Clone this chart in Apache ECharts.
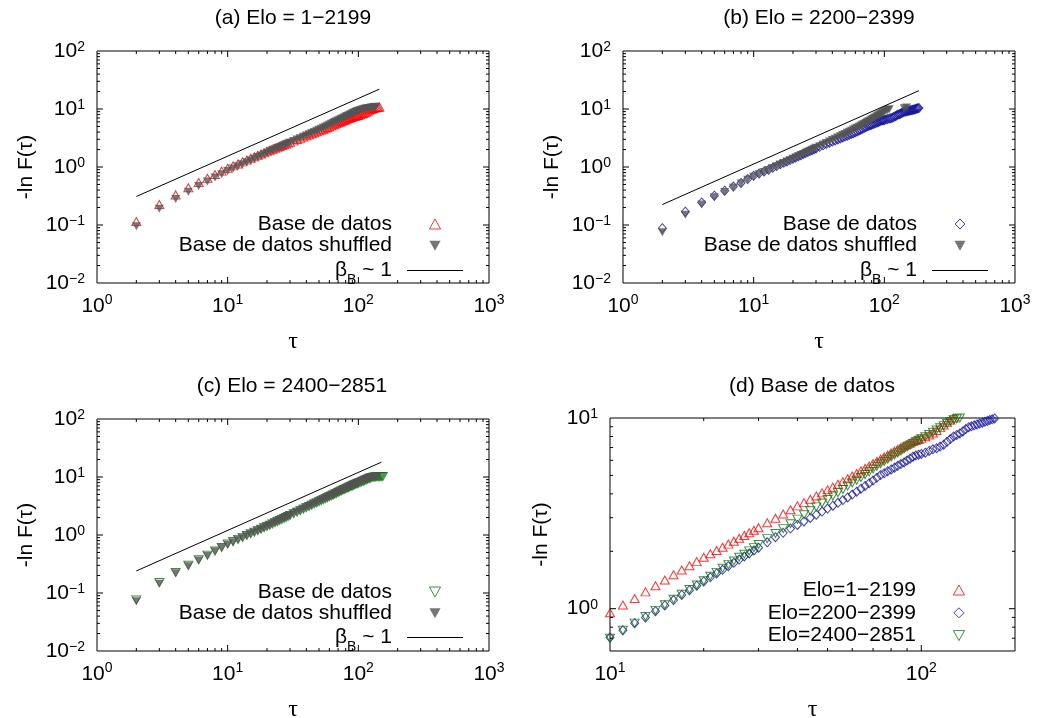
<!DOCTYPE html>
<html><head><meta charset="utf-8">
<script src="https://cdn.jsdelivr.net/npm/echarts@6/dist/echarts.min.js"></script>
<style>html,body{margin:0;padding:0;background:#fff}#c{width:1037px;height:718px}</style>
</head><body><div id="c"></div>
<script>
// ---------------- DATA ----------------
const TAU = [2,3,4,5,6,7,8,9,10,11,12,13,14,15,16,17,18,19,20,21,22,23,24,25,26,27,28,29,30,
  32,34,36,38,40,42,44,46,48,50,52,54,56,58,60,62,64,66,68,70,72,74,76,78,80,82,84,86,88,90,92,94,96,98,100,
  103,106,109,112,115,118,121,124,127,130,133,136,139,142,145,148,151,154,157,160,163,166,169,172,175,178,181,184];

// Elo 1-2199 (real / shuffled)
const A_REAL = [.115,.225,.33,.44,.54,.64,.74,.85,.953,
  1.046,1.13,1.225,1.318,1.413,1.506,1.595,1.68,1.765,1.86,
  1.94,2.02,2.10,2.18,2.26,2.34,2.42,2.50,2.58,2.66,
  2.82,2.98,3.14,3.30,3.46,3.60,3.75,3.90,4.05,4.20,4.34,4.49,4.64,4.80,4.96,5.12,5.28,5.44,5.60,5.77,
  5.93,6.10,6.25,6.40,6.55,6.70,6.85,7.00,7.15,7.28,7.40,7.52,7.62,7.72,7.82,
  7.98,8.15,8.35,8.6,8.9,9.2,9.5,9.75,10.0,10.2,10.35,10.5,10.6,10.7,10.8];
const A_SHUF = [.095,.19,.28,.375,.47,.56,.66,.75,.85,
  .94,1.03,1.12,1.21,1.30,1.39,1.48,1.57,1.66,1.76,
  1.86,1.95,2.03,2.12,2.20,2.29,2.37,2.46,2.54,2.63,
  2.80,2.97,3.14,3.31,3.48,3.66,3.84,4.02,4.20,4.39,4.58,4.77,4.96,5.15,5.35,
  5.55,5.75,5.95,6.15,6.35,6.55,6.75,6.95,7.15,7.35,7.55,7.75,7.95,8.15,8.35,8.55,8.75,8.95,9.15,9.30,
  9.50,9.75,9.95,10.1,10.2,10.3,10.4,10.5,10.6,10.7,10.8,10.9];

// Elo 2200-2399
const B_REAL = [.088,.17,.245,.32,.39,.46,.53,.62,.706,
  .77,.84,.90,.97,1.04,1.11,1.18,1.25,1.32,1.39,
  1.46,1.53,1.60,1.67,1.74,1.81,1.88,1.95,2.02,2.09,
  2.23,2.37,2.50,2.63,2.75,2.87,2.99,3.11,3.23,3.35,3.47,3.59,3.71,3.83,3.97,4.11,4.26,4.40,4.55,4.70,
  4.86,5.02,5.13,5.25,5.37,5.49,5.61,5.73,5.85,5.98,6.12,6.27,6.35,6.42,6.48,
  6.58,6.72,6.85,6.95,7.08,7.25,7.5,7.75,8.0,8.15,8.3,8.5,8.75,8.95,9.05,9.15,9.25,9.35,9.45,9.55,
  9.65,9.75,9.85,9.95,10.1,10.2,10.3,10.4];
const B_SHUF = [.075,.15,.225,.30,.37,.44,.52,.60,.68,
  .75,.82,.89,.96,1.03,1.10,1.17,1.24,1.31,1.39,
  1.46,1.53,1.61,1.68,1.76,1.83,1.91,1.98,2.06,2.14,
  2.29,2.44,2.59,2.75,2.91,3.07,3.23,3.39,3.55,3.72,3.89,4.06,4.23,4.41,4.59,4.77,4.96,5.15,5.34,5.54,
  5.74,5.94,6.15,6.36,6.57,6.79,7.01,7.24,7.47,7.70,7.94,8.18,8.43,8.68,8.93,
  9.3,9.6,9.9,null,null,null,null,null,null,null,null,null,null,10.3,null,10.6];

// Elo 2400-2851
const C_REAL = [.076,.152,.226,.30,.375,.45,.53,.61,.70,
  .77,.84,.91,.98,1.05,1.12,1.19,1.26,1.33,1.40,
  1.48,1.55,1.63,1.70,1.78,1.86,1.93,2.01,2.09,2.17,
  2.33,2.48,2.63,2.79,2.95,3.11,3.26,3.42,3.58,3.74,3.90,4.06,4.22,4.40,4.56,4.72,4.88,5.05,5.22,5.40,
  5.58,5.76,5.92,6.08,6.24,6.40,6.56,6.72,6.88,7.04,7.20,7.36,7.50,7.64,7.78,
  7.98,8.2,8.42,8.65,8.88,9.12,9.36,9.58,9.78,9.92,10.0,10.05,10.1,10.1,10.15,10.2,10.2,10.25];
const C_SHUF = [.072,.145,.218,.29,.365,.44,.52,.60,.68,
  .75,.83,.90,.97,1.04,1.12,1.19,1.26,1.34,1.41,
  1.49,1.57,1.64,1.72,1.80,1.88,1.96,2.04,2.12,2.20,
  2.36,2.52,2.68,2.84,3.00,3.16,3.32,3.48,3.64,3.80,3.96,4.12,4.29,4.46,4.62,4.79,4.96,5.13,5.30,5.47,
  5.64,5.81,5.98,6.15,6.32,6.49,6.66,6.83,7.00,7.17,7.34,7.51,7.68,7.85,8.02,
  8.27,8.52,8.77,9.02,9.27,9.5,9.7,9.85,9.95,10.0,10.05,10.1,10.1];

// beta_B ~ 1 guide lines (end points)
const LINE_A_TAU = [2,145], LINE_A_VAL = [0.31,22];
const LINE_B_TAU = [2,184], LINE_B_VAL = [0.225,20.7];
const LINE_C_TAU = [2,150], LINE_C_VAL = [0.24,18];

const TITLES = ['(a) Elo = 1\u22122199','(b) Elo = 2200\u22122399','(c) Elo = 2400\u22122851','(d) Base de datos'];
const X_NAME = '\u03c4';
const Y_NAME = '-ln F(\u03c4)';
const LEGEND_LABELS = {
  a_real:'Base de datos', a_shuf:'Base de datos shuffled', a_line:'BETA',
  b_real:'Base de datos', b_shuf:'Base de datos shuffled', b_line:'BETA',
  c_real:'Base de datos', c_shuf:'Base de datos shuffled', c_line:'BETA',
  d_a:'Elo=1\u22122199', d_b:'Elo=2200\u22122399', d_c:'Elo=2400\u22122851'
};

// ---------------- STYLE / LAYOUT ----------------
const FONT = 'Liberation Sans';
const RED = '#ff0000', BLUE = '#10109a', GREEN = '#0f720f', GRAY = '#545454';
const UP = 'path://M5,0L10,9L0,9Z';
const DOWN = 'path://M0,0L10,0L5,9Z';
const DIAM = 'path://M5,0L10,5L5,10L0,5Z';
const LINE_ICON = 'path://M0,0H56V1H0Z';
const panels = [
  {left:97, top:51, width:392, height:232, xr:[1,1000], yr:[0.01,100], title:[293,18]},
  {left:623, top:51, width:392, height:232, xr:[1,1000], yr:[0.01,100], title:[819,18]},
  {left:97, top:419, width:392, height:232, xr:[1,1000], yr:[0.01,100], title:[292,386]},
  {left:610, top:418, width:405, height:233, xr:[10,200], yr:[0.6,10], title:[812,386]}
];

const zip = vals => vals.map((v,i) => v == null ? null : [TAU[i], v]).filter(Boolean);
const zipLine = (t, v) => t.map((x,i) => [x, v[i]]);

const fmtExp = e => (e < 0 ? '\u2212' + (-e) : String(e));
function powLabel(v) {
  const e = Math.log10(v), r = Math.round(e);
  if (Math.abs(e - r) > 1e-6) return '';
  return '{b|10}{s|' + fmtExp(r) + '}';
}
const supS = {fontSize:14, lineHeight:14, verticalAlign:'top', fontFamily:FONT, color:'#000'};
const RICH_X = {b:{fontSize:21, lineHeight:21, padding:[5,0,0,0], fontFamily:FONT, color:'#000'}, s:supS};
const RICH_Y = {b:{fontSize:21, lineHeight:21, padding:[5,0,5,0], fontFamily:FONT, color:'#000'}, s:supS};

function tickData(p) {
  const d = [];
  const e0 = Math.floor(Math.log10(p.xr[0])), e1 = Math.ceil(Math.log10(p.xr[1]));
  for (let e = e0; e <= e1; e++) for (let m = 1; m <= 9; m++) {
    const v = m * Math.pow(10, e);
    if (v > p.xr[0] * 1.0001 && v < p.xr[1] * 0.9999) d.push([v, p.yr[0], 0, m === 1 ? 6 : 3]);
  }
  const f0 = Math.floor(Math.log10(p.yr[0])), f1 = Math.ceil(Math.log10(p.yr[1]));
  for (let e = f0; e <= f1; e++) for (let m = 1; m <= 9; m++) {
    const v = m * Math.pow(10, e);
    if (v > p.yr[0] * 1.0001 && v < p.yr[1] * 0.9999) d.push([p.xr[0], v, 1, m === 1 ? 6 : 3]);
  }
  return d;
}
function tickSeries(i) {
  const p = panels[i];
  return {
    type:'custom', xAxisIndex:i, yAxisIndex:i, silent:true, z:5,
    encode:{x:0, y:1}, data: tickData(p),
    renderItem(params, api) {
      const kind = api.value(2), len = api.value(3);
      const st = {stroke:'#000', lineWidth:1};
      if (kind === 0) {
        const v = api.value(0);
        const b = api.coord([v, p.yr[0]]), t = api.coord([v, p.yr[1]]);
        return {type:'group', children:[
          {type:'line', shape:{x1:b[0], y1:b[1], x2:b[0], y2:b[1]-len}, style:st},
          {type:'line', shape:{x1:t[0], y1:t[1], x2:t[0], y2:t[1]+len}, style:st}]};
      } else {
        const v = api.value(1);
        const l = api.coord([p.xr[0], v]), r = api.coord([p.xr[1], v]);
        return {type:'group', children:[
          {type:'line', shape:{x1:l[0], y1:l[1], x2:l[0]+len, y2:l[1]}, style:st},
          {type:'line', shape:{x1:r[0], y1:r[1], x2:r[0]-len, y2:r[1]}, style:st}]};
      }
    }
  };
}

function scatter(name, i, data, symbol, size, color, hollow) {
  return {
    type:'scatter', name, xAxisIndex:i, yAxisIndex:i, data, symbol, symbolSize:size,
    silent:true, clip:true,
    itemStyle: hollow ? {color:'rgba(0,0,0,0)', borderColor:color, borderWidth:1}
                      : {color:color, borderWidth:0}
  };
}
function guide(name, i, data) {
  return {type:'line', name, xAxisIndex:i, yAxisIndex:i, data, symbol:'none', showSymbol:false,
    silent:true, color:'#000', lineStyle:{color:'#000', width:1}, itemStyle:{color:'#000'}};
}

const series = [
  scatter('a_real',0,zip(A_REAL),UP,[9,8],RED,true),
  scatter('a_shuf',0,zip(A_SHUF),DOWN,[9,8],GRAY,false),
  guide('a_line',0,zipLine(LINE_A_TAU,LINE_A_VAL)),
  scatter('b_real',1,zip(B_REAL),DIAM,[8,9],BLUE,true),
  scatter('b_shuf',1,zip(B_SHUF),DOWN,[9,8],GRAY,false),
  guide('b_line',1,zipLine(LINE_B_TAU,LINE_B_VAL)),
  scatter('c_real',2,zip(C_REAL),DOWN,[9,8],GREEN,true),
  scatter('c_shuf',2,zip(C_SHUF),DOWN,[9,8],GRAY,false),
  guide('c_line',2,zipLine(LINE_C_TAU,LINE_C_VAL)),
  scatter('d_a',3,zip(A_REAL),UP,[9,8],RED,true),
  scatter('d_b',3,zip(B_REAL),DIAM,[8,9],BLUE,true),
  scatter('d_c',3,zip(C_REAL),DOWN,[9,8],GREEN,true),
  tickSeries(0), tickSeries(1), tickSeries(2), tickSeries(3)
];

const legendRich = {
  t:{fontSize:21, lineHeight:28, fontFamily:FONT, color:'#000'},
  s:{fontSize:14, lineHeight:8, padding:[20,0,0,0], fontFamily:FONT, color:'#000'}
};
function legend(names, right, top, gap) {
  return {
    orient:'vertical', align:'right', right, top, padding:0, itemGap:gap,
    itemWidth:56, itemHeight:10, selectedMode:false,
    data: names.map(n => LEGEND_LABELS[n] === 'BETA' ? {name:n, icon:LINE_ICON} : n),
    itemStyle:{borderWidth:1}, lineStyle:{width:1},
    formatter: n => LEGEND_LABELS[n] === 'BETA' ? '{t|\u03b2}{s|B}{t| ~ 1}' : '{t|' + LEGEND_LABELS[n] + '}',
    textStyle:{fontSize:21, fontFamily:FONT, color:'#000', lineHeight:28, padding:[0,10,0,0], rich:legendRich}
  };
}

const option = {
  animation:false,
  backgroundColor:'#fff',
  textStyle:{fontFamily:FONT},
  grid: panels.map(p => ({left:p.left, top:p.top, width:p.width, height:p.height,
    show:true, borderColor:'#000', borderWidth:1, backgroundColor:'rgba(0,0,0,0)', containLabel:false, outerBoundsMode:'none'})),
  xAxis: panels.map((p,i) => ({
    gridIndex:i, type:'log', logBase:10, min:p.xr[0], max:p.xr[1],
    name:X_NAME, nameLocation:'middle', nameGap:47,
    nameTextStyle:{fontFamily:'Liberation Serif', fontSize:24, color:'#000'},
    axisLine:{show:false}, axisTick:{show:false}, splitLine:{show:false}, minorTick:{show:false},
    axisLabel:{margin:10, formatter:powLabel, rich:RICH_X, showMinLabel:true, showMaxLabel:true}
  })),
  yAxis: panels.map((p,i) => ({
    gridIndex:i, type:'log', logBase:10, min:p.yr[0], max:p.yr[1],
    name:Y_NAME, nameLocation:'middle', nameGap:i === 3 ? 58 : 60, nameRotate:90,
    nameTextStyle:{fontFamily:FONT, fontSize:21, color:'#000'},
    axisLine:{show:false}, axisTick:{show:false}, splitLine:{show:false}, minorTick:{show:false},
    axisLabel:{margin:12, formatter:powLabel, rich:RICH_Y, showMinLabel:true, showMaxLabel:true}
  })),
  legend: [
    legend(['a_real','a_shuf','a_line'], 574, 210, -6.3),
    legend(['b_real','b_shuf','b_line'], 49, 210, -6.3),
    legend(['c_real','c_shuf','c_line'], 574, 578, -6.7),
    legend(['d_a','d_b','d_c'], 72, 576, -5.2)
  ],
  graphic: TITLES.map((t,i) => ({type:'text', x:panels[i].title[0], y:panels[i].title[1], silent:true,
    style:{text:t, font:'21px "Liberation Sans"', fill:'#000', align:'center', verticalAlign:'middle'}})),
  series
};
const chart = echarts.init(document.getElementById('c'), null, {renderer:'canvas'});
chart.setOption(option);
</script></body></html>
